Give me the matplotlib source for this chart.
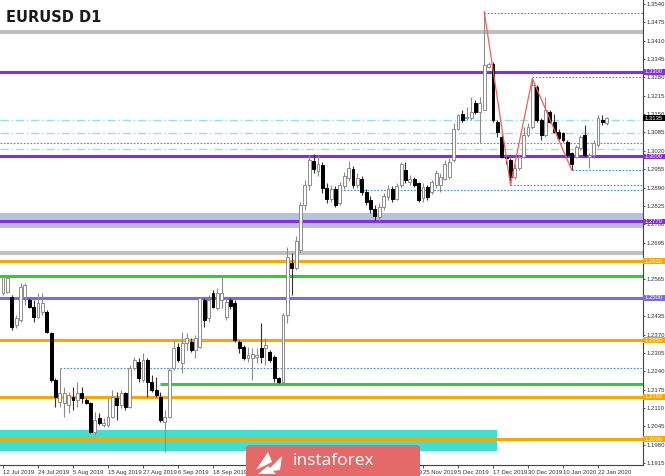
import matplotlib
matplotlib.use("Agg")
import matplotlib.pyplot as plt
import matplotlib.transforms as mtransforms
from matplotlib.patches import Rectangle, FancyBboxPatch, Polygon

# ---------------- data ----------------
opens = [1.2516, 1.2521, 1.2504, 1.2404, 1.2421, 1.2504, 1.2492, 1.2468, 1.2433, 1.2451,
         1.2451, 1.2374, 1.2209, 1.2132, 1.2126, 1.2120, 1.2150, 1.2138, 1.2162, 1.2138,
         1.2126, 1.2026, 1.2073, 1.2050, 1.2050, 1.2079, 1.2144, 1.2120, 1.2162, 1.2115,
         1.2250, 1.2274, 1.2209, 1.2280, 1.2203, 1.2174, 1.2150, 1.2061, 1.2079, 1.2250,
         1.2327, 1.2268, 1.2339, 1.2345, 1.2315, 1.2327, 1.2492, 1.2427, 1.2516, 1.2463,
         1.2492, 1.2433, 1.2492, 1.2480, 1.2345, 1.2327, 1.2286, 1.2286, 1.2292, 1.2321,
         1.2321, 1.2309, 1.2292, 1.2215, 1.2203, 1.2439, 1.2622, 1.2604, 1.2669, 1.2828,
         1.2899, 1.2985, 1.2950, 1.2970, 1.2890, 1.2850, 1.2885, 1.2835, 1.2895, 1.2925,
         1.2955, 1.2900, 1.2920, 1.2875, 1.2845, 1.2815, 1.2785, 1.2820, 1.2855, 1.2885,
         1.2850, 1.2899, 1.2952, 1.2911, 1.2922, 1.2905, 1.2852, 1.2893, 1.2875, 1.2899,
         1.2899, 1.2922, 1.2928, 1.2987, 1.3099, 1.3152, 1.3135, 1.3135, 1.3188, 1.3158,
         1.3164, 1.3318, 1.3329, 1.3123, 1.3070, 1.2999, 1.2987, 1.2928, 1.2958, 1.2999,
         1.3076, 1.3105, 1.3247, 1.3129, 1.3076, 1.3158, 1.3123, 1.3088, 1.3082, 1.3052,
         1.3011, 1.2999, 1.3029, 1.3076, 1.2999, 1.3005, 1.3040, 1.3129, 1.3117]
highs = [1.2581, 1.2577, 1.2510, 1.2439, 1.2551, 1.2551, 1.2498, 1.2492, 1.2516, 1.2516,
         1.2457, 1.2380, 1.2215, 1.2250, 1.2185, 1.2168, 1.2185, 1.2203, 1.2185, 1.2144,
         1.2132, 1.2097, 1.2091, 1.2073, 1.2144, 1.2174, 1.2168, 1.2174, 1.2168, 1.2262,
         1.2292, 1.2286, 1.2303, 1.2286, 1.2227, 1.2221, 1.2168, 1.2103, 1.2250, 1.2351,
         1.2339, 1.2380, 1.2374, 1.2356, 1.2368, 1.2504, 1.2498, 1.2510, 1.2527, 1.2533,
         1.2581, 1.2498, 1.2498, 1.2492, 1.2351, 1.2333, 1.2327, 1.2321, 1.2321, 1.2410,
         1.2356, 1.2315, 1.2297, 1.2221, 1.2445, 1.2680, 1.2660, 1.2720, 1.2840, 1.2917,
         1.3005, 1.3010, 1.3005, 1.2980, 1.2905, 1.2900, 1.2895, 1.2910, 1.2945, 1.2985,
         1.2965, 1.2940, 1.2930, 1.2885, 1.2860, 1.2830, 1.2835, 1.2870, 1.2900, 1.2895,
         1.2905, 1.2981, 1.2981, 1.2934, 1.2928, 1.2911, 1.2905, 1.2899, 1.2916, 1.2952,
         1.2940, 1.2987, 1.2993, 1.3117, 1.3152, 1.3164, 1.3176, 1.3211, 1.3200, 1.3211,
         1.3512, 1.3335, 1.3335, 1.3129, 1.3076, 1.3005, 1.2993, 1.2975, 1.3005, 1.3105,
         1.3117, 1.3276, 1.3253, 1.3135, 1.3211, 1.3164, 1.3152, 1.3099, 1.3088, 1.3058,
         1.3017, 1.3040, 1.3076, 1.3111, 1.3011, 1.3058, 1.3147, 1.3147, 1.3141]
lows = [1.2510, 1.2516, 1.2386, 1.2392, 1.2415, 1.2474, 1.2463, 1.2415, 1.2427, 1.2439,
        1.2374, 1.2203, 1.2115, 1.2115, 1.2079, 1.2091, 1.2103, 1.2115, 1.2126, 1.2124,
        1.2020, 1.2014, 1.2050, 1.2044, 1.2044, 1.2073, 1.2067, 1.2109, 1.2103, 1.2109,
        1.2244, 1.2203, 1.2203, 1.2150, 1.2168, 1.2150, 1.2061, 1.1955, 1.2073, 1.2244,
        1.2274, 1.2233, 1.2315, 1.2309, 1.2286, 1.2321, 1.2398, 1.2415, 1.2463, 1.2457,
        1.2463, 1.2421, 1.2460, 1.2345, 1.2303, 1.2280, 1.2274, 1.2209, 1.2268, 1.2268,
        1.2262, 1.2274, 1.2203, 1.2197, 1.2197, 1.2410, 1.2510, 1.2598, 1.2660, 1.2810,
        1.2881, 1.2940, 1.2930, 1.2870, 1.2835, 1.2840, 1.2820, 1.2830, 1.2885, 1.2915,
        1.2890, 1.2890, 1.2865, 1.2830, 1.2800, 1.2775, 1.2770, 1.2810, 1.2845, 1.2840,
        1.2845, 1.2893, 1.2905, 1.2899, 1.2893, 1.2840, 1.2840, 1.2846, 1.2869, 1.2887,
        1.2875, 1.2916, 1.2922, 1.2981, 1.3093, 1.3123, 1.3129, 1.3129, 1.3152, 1.3046,
        1.3164, 1.3312, 1.3123, 1.3070, 1.2993, 1.2975, 1.2899, 1.2922, 1.2952, 1.2993,
        1.3070, 1.3099, 1.3123, 1.3058, 1.3070, 1.3117, 1.3082, 1.3058, 1.3052, 1.2999,
        1.2952, 1.2993, 1.3023, 1.2999, 1.2958, 1.2993, 1.3034, 1.3111, 1.3111]
closes = [1.2575, 1.2569, 1.2398, 1.2427, 1.2539, 1.2545, 1.2468, 1.2433, 1.2480, 1.2480,
          1.2380, 1.2209, 1.2150, 1.2162, 1.2162, 1.2156, 1.2138, 1.2162, 1.2144, 1.2129,
          1.2026, 1.2067, 1.2056, 1.2056, 1.2079, 1.2150, 1.2120, 1.2162, 1.2115, 1.2250,
          1.2280, 1.2215, 1.2280, 1.2203, 1.2174, 1.2156, 1.2067, 1.2079, 1.2244, 1.2321,
          1.2280, 1.2339, 1.2356, 1.2315, 1.2356, 1.2498, 1.2421, 1.2492, 1.2468, 1.2516,
          1.2516, 1.2486, 1.2470, 1.2351, 1.2321, 1.2286, 1.2297, 1.2301, 1.2297, 1.2292,
          1.2333, 1.2280, 1.2215, 1.2203, 1.2439, 1.2645, 1.2604, 1.2700, 1.2828, 1.2899,
          1.2988, 1.2955, 1.2975, 1.2890, 1.2850, 1.2885, 1.2830, 1.2900, 1.2930, 1.2960,
          1.2900, 1.2925, 1.2875, 1.2840, 1.2815, 1.2790, 1.2820, 1.2860, 1.2885, 1.2850,
          1.2895, 1.2975, 1.2916, 1.2922, 1.2899, 1.2846, 1.2893, 1.2858, 1.2911, 1.2940,
          1.2928, 1.2975, 1.2981, 1.3099, 1.3147, 1.3129, 1.3141, 1.3158, 1.3158, 1.3188,
          1.3324, 1.3329, 1.3129, 1.3088, 1.2999, 1.2993, 1.2928, 1.2958, 1.2999, 1.3076,
          1.3105, 1.3253, 1.3129, 1.3076, 1.3164, 1.3123, 1.3088, 1.3064, 1.3058, 1.3005,
          1.2975, 1.3034, 1.3070, 1.3005, 1.3005, 1.3046, 1.3135, 1.3123, 1.3135]

date_labels = ["12 Jul 2019", "24 Jul 2019", "5 Aug 2019", "15 Aug 2019", "27 Aug 2019",
               "6 Sep 2019", "18 Sep 2019", "30 Sep 2019", "10 Oct 2019", "22 Oct 2019",
               "1 Nov 2019", "13 Nov 2019", "25 Nov 2019", "5 Dec 2019", "17 Dec 2019",
               "30 Dec 2019", "10 Jan 2020", "22 Jan 2020"]
price_ticks = [1.3540, 1.3475, 1.3410, 1.3345, 1.3280, 1.3215, 1.3150, 1.3085, 1.3020,
               1.2955, 1.2890, 1.2825, 1.2760, 1.2695, 1.2630, 1.2565, 1.2500, 1.2435,
               1.2370, 1.2305, 1.2240, 1.2175, 1.2110, 1.2045, 1.1980, 1.1915]
hidden_ticks = [1.2630, 1.2500]   # fully covered by level label boxes in the reference

# horizontal levels: (price, colour, width, label)
solid_levels = [(1.3300, "#8A2BE2", 2.2, "1.3300"), (1.3000, "#8A2BE2", 2.2, "1.3000"),
                (1.2770, "#8A2BE2", 2.2, "1.2770"), (1.2630, "#FFA500", 2.2, "1.2630"),
                (1.2500, "#7B68EE", 2.2, "1.2500"), (1.2350, "#FFA500", 2.2, "1.2350"),
                (1.2150, "#FFA500", 2.2, "1.2150"), (1.2000, "#FFA500", 2.2, "1.2000")]
gray_levels = [1.3440, 1.2660]
green_full = 1.2578
green_partial = (36, 1.2194)
dashdot_levels = [1.3129, 1.3082, 1.3025]
dotted_levels = [(110, 1.3509), (121, 1.3280), (-1, 1.3047), (130, 1.2952),
                 (116, 1.2899), (74, 1.2881), (13, 1.2250)]
steel_band = (1.2746, 1.2799)
turq_band = (1.1959, 1.2032, 112.9)
zigzag_idx = [110, 116, 121, 130]
zigzag_val = [1.3512, 1.2899, 1.3276, 1.2952]
last_price = 1.3135

SMALL = ["Liberation Sans Narrow", "Liberation Sans", "DejaVu Sans"]

# ---------------- figure ----------------
W, H = 665, 476
fig = plt.figure(figsize=(W / 100, H / 100), dpi=100)
fig.patch.set_facecolor("white")
ax = fig.add_axes([0, 11 / H, 643 / W, 465 / H])
ymax, ymin = 1.35537, 1.19083
ax.set_ylim(ymin, ymax)
xmin, xmax = -0.686, 146.29
ax.set_xlim(xmin, xmax)

# bands
ax.axhspan(*steel_band, color="#B0C4DE", zorder=1, lw=0)
ax.add_patch(Rectangle((xmin, turq_band[0]), turq_band[2] - xmin, turq_band[1] - turq_band[0],
                       color="#40E0D0", zorder=1, lw=0))

for p in gray_levels:
    ax.axhline(p, color="#C0C0C0", lw=3.0, zorder=2)
for p, c, lw, lab in solid_levels:
    ax.axhline(p, color=c, lw=lw, zorder=2)
ax.axhline(green_full, color="#32CD32", lw=2.2, zorder=2)
ax.hlines(green_partial[1], green_partial[0], xmax, color="#32CD32", lw=2.2, zorder=2)
for p in dashdot_levels:
    ax.axhline(p, color="#8EE5DA", lw=1.0, ls=(0, (6, 2, 1, 2)), zorder=2)
for start, p in dotted_levels:
    s = xmin if start < 0 else start
    ax.hlines(p, s, xmax, color="#3A8EF0", lw=0.8, ls=(0, (1.5, 1.5)), zorder=2)

# candles
x = list(range(len(opens)))
for i in x:
    o, h, l, c = opens[i], highs[i], lows[i], closes[i]
    up = c >= o
    wick_c = "#8c8c8c" if up else "#333333"
    ax.vlines(i, l, h, color=wick_c, lw=0.8, zorder=3)
    lo, hi = min(o, c), max(o, c)
    if hi - lo < 0.0003:
        hi = lo + 0.0003
    ax.add_patch(Rectangle((i - 0.33, lo), 0.66, hi - lo,
                           facecolor="white" if up else "black",
                           edgecolor="#8c8c8c" if up else "black", lw=0.7, zorder=4))

# zigzag
ax.plot(zigzag_idx, zigzag_val, color="#FF5A5A", lw=0.9, zorder=5)

# axes styling
for s in ["left", "top"]:
    ax.spines[s].set_visible(False)
ax.spines["right"].set_color("#444444")
ax.spines["bottom"].set_color("#444444")
ax.spines["right"].set_linewidth(0.8)
ax.spines["bottom"].set_linewidth(0.8)
ax.yaxis.tick_right()
ax.set_yticks(price_ticks)
ax.set_yticklabels(["" if v in hidden_ticks else f"{v:.4f}" for v in price_ticks],
                   family=SMALL)
ax.tick_params(axis="y", labelsize=4.3, length=1.5, width=0.6, pad=1.2, colors="#333333")
ax.set_xticks([8 * k for k in range(len(date_labels))])
ax.set_xticklabels(date_labels, ha="left", family=SMALL)
ax.tick_params(axis="x", labelsize=4.3, length=2, width=0.6, pad=1.5, colors="#333333")

# right-side level label boxes
trans = mtransforms.blended_transform_factory(fig.transFigure, ax.transData)
bh = 0.0021
for p, c, lw, lab in solid_levels:
    ax.add_patch(Rectangle((643 / W, p - bh / 2), 22 / W, bh, transform=trans,
                           facecolor=c, edgecolor="none", clip_on=False, zorder=10))
    ax.text(654 / W, p, lab, transform=trans, color="white", fontsize=4.2, family=SMALL,
            ha="center", va="center", clip_on=False, zorder=11)
ax.add_patch(Rectangle((643 / W, last_price - bh / 2), 22 / W, bh, transform=trans,
                       facecolor="black", edgecolor="none", clip_on=False, zorder=10))
ax.text(654 / W, last_price, f"{last_price:.4f}", transform=trans, color="white",
        fontsize=4.2, family=SMALL, ha="center", va="center", clip_on=False, zorder=11)

# title
fig.text(6 / W, 1 - 18 / H, "EURUSD D1", fontsize=10.5, fontweight="bold",
         color="#1a1a1a", va="center", ha="left")

# logo box
logo = FancyBboxPatch((246 / W, -0.01), 174 / W, (31 / H) + 0.01,
                      boxstyle="round,pad=0,rounding_size=0.006",
                      transform=fig.transFigure, facecolor="#E46A6A", edgecolor="none",
                      zorder=20)
fig.add_artist(logo)
icon = [
    [(256, 470), (268, 452), (272, 462)],
    [(266, 472), (282, 456), (280, 470)],
    [(258, 474), (276, 474), (268, 466)],
]
for tri in icon:
    fig.add_artist(Polygon([(px / W, 1 - py / H) for px, py in tri], closed=True,
                           transform=fig.transFigure, facecolor="white",
                           edgecolor="none", zorder=21))
fig.text(333 / W, 1 - 461 / H, "instaforex", fontsize=12.5, color="white",
         family="Open Sans", ha="center", va="center", zorder=22)

fig.savefig("out.png", dpi=100)
